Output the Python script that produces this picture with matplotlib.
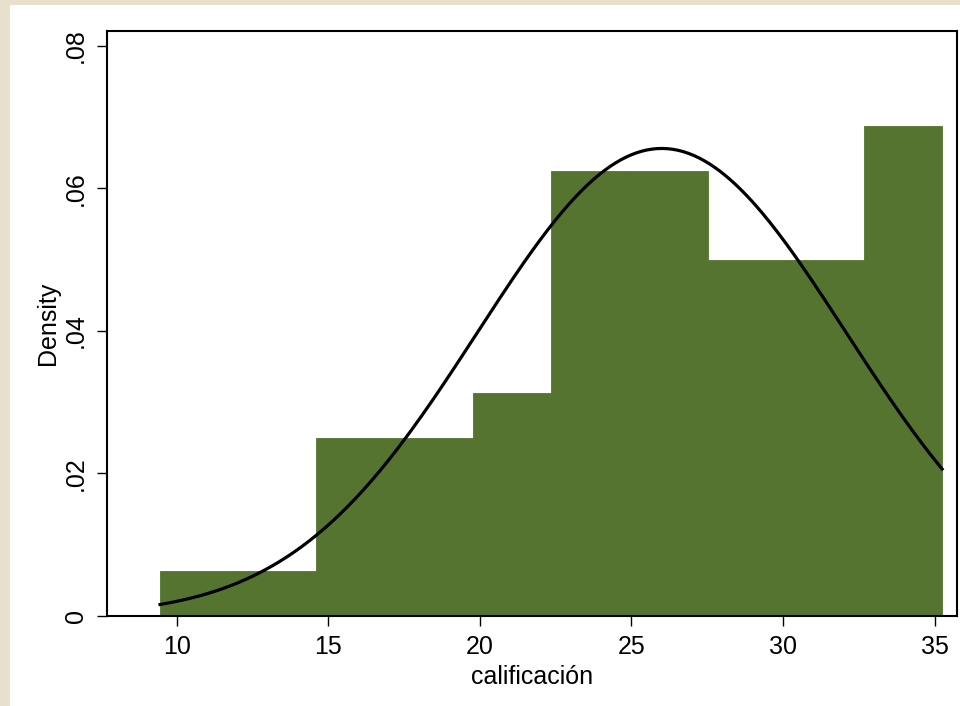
import numpy as np
import matplotlib.pyplot as plt
from matplotlib.patches import Rectangle

plt.rcParams['font.family'] = ['Liberation Sans', 'DejaVu Sans']

# histogram of calificación: 10 equal-width bins, counts per bin
bin_start = 9.45
bin_width = 2.58
counts = [1, 1, 4, 4, 5, 10, 10, 8, 8, 11]
n_obs = sum(counts)

# fitted normal overlay
mu = 26.0
sigma = 6.08

x_ticks = [10, 15, 20, 25, 30, 35]
y_ticks = [0, 0.02, 0.04, 0.06, 0.08]
y_tick_labels = ["0", ".02", ".04", ".06", ".08"]

bar_color = "#557430"

edges = bin_start + bin_width * np.arange(len(counts) + 1)
density = np.array(counts) / (n_obs * bin_width)

fig = plt.figure(figsize=(9.6, 7.06), dpi=100, facecolor="#E8E0CC")
fig.patches.append(Rectangle((10 / 960, 0), 1, 1 - 5 / 706, transform=fig.transFigure,
                             facecolor="white", edgecolor="none", zorder=-10))

ax = fig.add_axes([106.7 / 960, 90 / 706, 850 / 960, 585 / 706])
ax.set_zorder(5)
ax.bar(edges[:-1], density, width=bin_width, align="edge",
       color=bar_color, edgecolor=bar_color, linewidth=0.6)

xs = np.linspace(edges[0], edges[-1], 300)
pdf = np.exp(-0.5 * ((xs - mu) / sigma) ** 2) / (sigma * np.sqrt(2 * np.pi))
ax.plot(xs, pdf, color="black", linewidth=2.3)

ax.set_xlim(7.69, 35.73)
ax.set_ylim(0, 0.0821)
ax.set_xticks(x_ticks)
ax.set_yticks(y_ticks)
ax.set_yticklabels(y_tick_labels, rotation=90, va="center")
ax.tick_params(axis="both", direction="out", length=7.2, width=1.0,
               labelsize=18, pad=6.5)
for s in ax.spines.values():
    s.set_linewidth(1.5)

ax.set_xlabel("calificación", fontsize=18, labelpad=4)
ax.set_ylabel("Density", fontsize=18, labelpad=2.5)

fig.savefig("out.png", dpi=100, facecolor=fig.get_facecolor())
